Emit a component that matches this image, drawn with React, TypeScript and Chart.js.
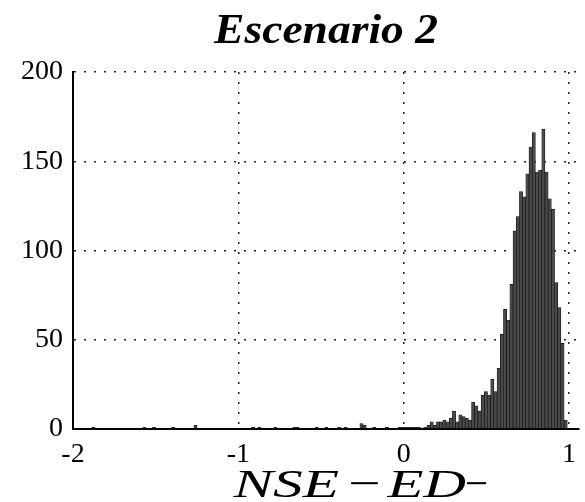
import React, { useEffect, useRef } from "react";
import { Chart, registerables } from "chart.js";

Chart.register(...registerables);

// Histogram bin centers (NSE values) and counts
const binCenters = [
  -1.8764, -1.5676, -1.5097, -1.3939, -1.2588, -0.9114, -0.8728, -0.7763,
  -0.6605, -0.6412, -0.5254, -0.4675, -0.3903, -0.3517, -0.2552, -0.2359,
  -0.178, -0.1008, -0.0236, -0.0043, 0.015, 0.0343, 0.0536, 0.0729, 0.0922,
  0.1308, 0.1501, 0.1694, 0.1887, 0.208, 0.2273, 0.2466, 0.2659, 0.2852,
  0.3045, 0.3238, 0.3431, 0.3624, 0.3817, 0.401, 0.4203, 0.4396, 0.4589,
  0.4782, 0.4975, 0.5168, 0.5361, 0.5554, 0.5747, 0.594, 0.6133, 0.6326,
  0.6519, 0.6712, 0.6905, 0.7098, 0.7291, 0.7484, 0.7677, 0.787, 0.8063,
  0.8256, 0.8449, 0.8642, 0.8835, 0.9028, 0.9221, 0.9414, 0.9607, 0.98,
];
const counts = [
  1, 1, 1, 1, 2, 1, 1, 1,
  1, 1, 1, 1, 1, 1, 3, 2,
  1, 1, 1, 1, 1, 1, 1, 1, 1,
  1, 2, 4, 2, 4, 4, 5, 4, 6,
  10, 4, 8, 7, 6, 5, 15, 13, 10,
  19, 21, 19, 28, 21, 34, 53, 67, 61,
  81, 111, 119, 133, 130, 143, 158, 166, 144,
  145, 168, 144, 129, 123, 82, 68, 48, 5,
];
const yTicks = [0, 50, 100, 150, 200];
const xTicks = [-2, -1, 0, 1];
const titleText = "Escenario 2";
const xLabelParts = [
  { t: "NSE", italic: true, x0: 232, x1: 339 },
  { t: "\u2212", italic: false, x0: 351, x1: 379 },
  { t: "ED", italic: true, x0: 386, x1: 465 },
  { t: "\u2212", italic: false, x0: 467, x1: 487 },
];

const SERIF = "'Liberation Serif', 'Times New Roman', serif";

function drawFit(ctx: CanvasRenderingContext2D, text: string, font: string, x0: number, x1: number, y: number) {
  ctx.save();
  ctx.font = font;
  ctx.textAlign = "left";
  ctx.textBaseline = "alphabetic";
  const m = ctx.measureText(text);
  const w = m.actualBoundingBoxRight + m.actualBoundingBoxLeft || m.width;
  const sx = (x1 - x0) / w;
  ctx.translate(x0, y);
  ctx.scale(sx, 1);
  ctx.fillText(text, m.actualBoundingBoxLeft || 0, 0);
  ctx.restore();
}

export default function App() {
  const ref = useRef<HTMLCanvasElement | null>(null);

  useEffect(() => {
    const canvas = ref.current;
    if (!canvas) return;
    const textPlugin = {
      id: "texts",
      afterDraw(chart: any) {
        const ctx = chart.ctx as CanvasRenderingContext2D;
        ctx.save();
        ctx.fillStyle = "#000";
        drawFit(ctx, titleText, `italic bold 42px ${SERIF}`, 213, 438, 43);
        for (const p of xLabelParts) {
          drawFit(ctx, p.t, `${p.italic ? "italic " : ""}41px ${SERIF}`, p.x0, p.x1, 497);
        }
        ctx.restore();
      },
    };

    const chart = new Chart(canvas, {
      type: "bar",
      data: {
        datasets: [
          {
            data: binCenters.map((x, i) => ({ x, y: counts[i] })),
            backgroundColor: "#4a4a4a",
            borderColor: "#111",
            borderWidth: 0.7,
            categoryPercentage: 1,
            barPercentage: 1,
          },
        ],
      },
      options: {
        responsive: false,
        animation: false,
        devicePixelRatio: 1,
        layout: { padding: { top: 72, right: 0, left: 0, bottom: 0 } },
        plugins: {
          legend: { display: false },
          tooltip: { enabled: false },
          title: { display: false },
        },
        scales: {
          x: {
            type: "linear",
            min: -2,
            max: 1.06,
            offset: false,
            afterBuildTicks: (s: any) => {
              s.ticks = xTicks.map((v) => ({ value: v }));
            },
            afterFit: (s: any) => {
              s.height = 73;
            },
            ticks: {
              includeBounds: false,
              autoSkip: false,
              maxRotation: 0,
              padding: 9,
              color: "#000",
              font: { family: SERIF, size: 28 },
            },
            grid: { offset: false, color: "#222", lineWidth: 1.5, drawTicks: false },
            border: { display: true, color: "#000", width: 2, dash: [2, 8] },
          },
          y: {
            min: 0,
            max: 200,
            afterBuildTicks: (s: any) => {
              s.ticks = yTicks.map((v) => ({ value: v }));
            },
            afterFit: (s: any) => {
              s.width = 73;
            },
            ticks: {
              padding: 10,
              color: "#000",
              font: { family: SERIF, size: 28 },
            },
            grid: { color: "#222", lineWidth: 1.5, drawTicks: false },
            border: { display: true, color: "#000", width: 2, dash: [2, 8] },
          },
        },
      },
      plugins: [textPlugin],
    });
    return () => chart.destroy();
  }, []);

  return (
    <div style={{ position: "absolute", left: 0, top: 0, width: 585, height: 502, background: "#fff" }}>
      <canvas ref={ref} width={585} height={502} style={{ width: 585, height: 502 }} />
    </div>
  );
}
